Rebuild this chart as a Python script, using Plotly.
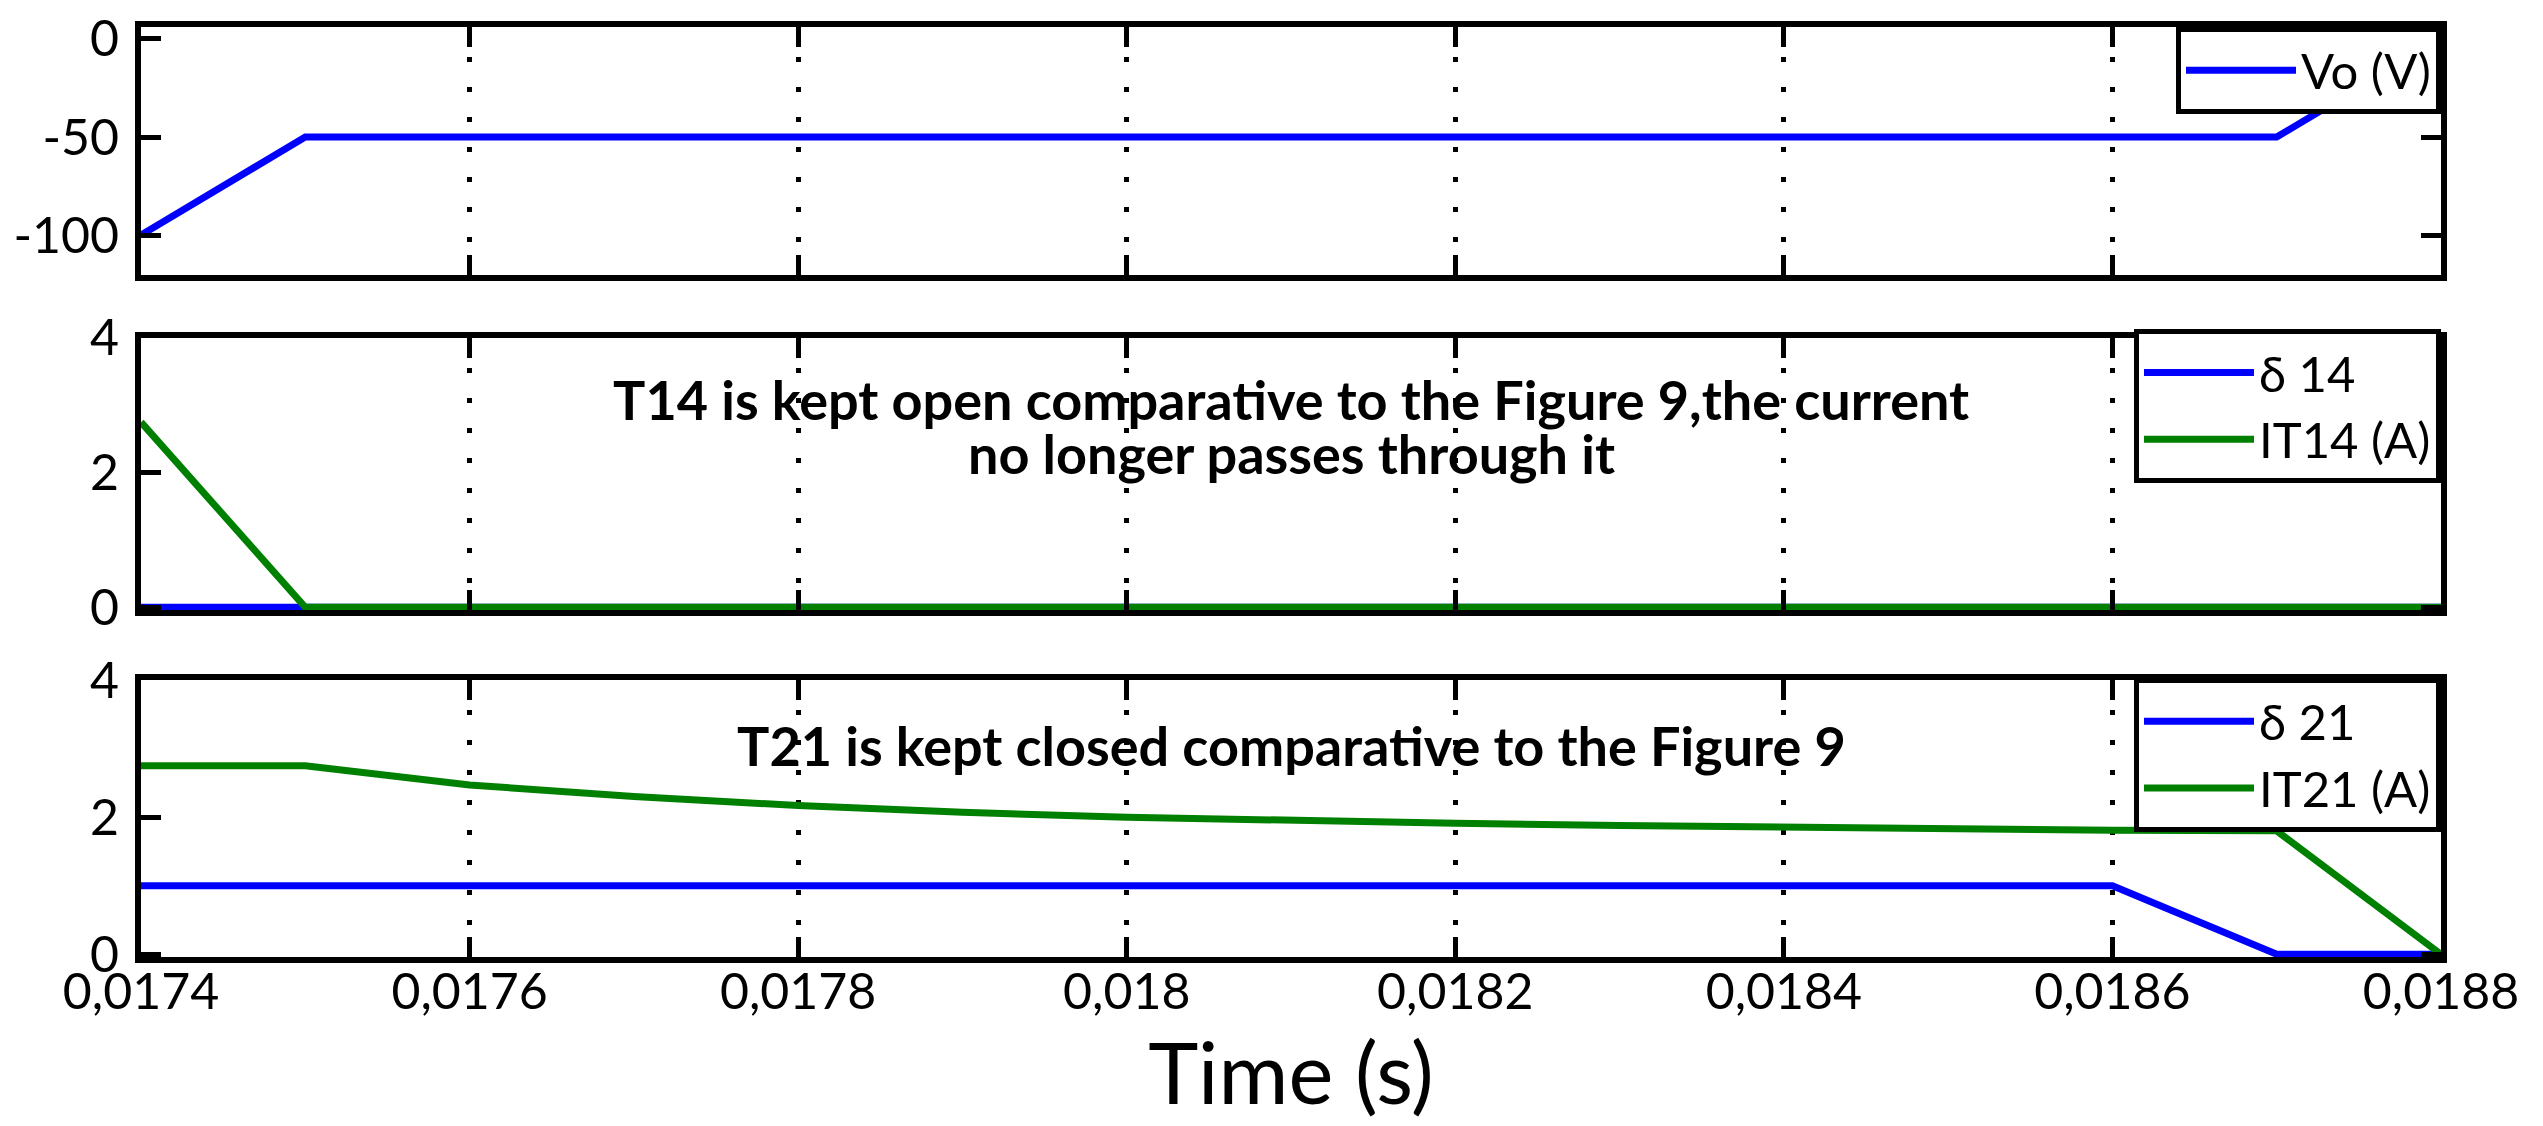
import plotly.graph_objects as go
from plotly.subplots import make_subplots

# ---------------------------------------------------------------------------
# Data
# ---------------------------------------------------------------------------

t_vo = [0.0174, 0.0175, 0.0187, 0.0188]
vo = [-100, -50, -50, 0]

t = [0.0174, 0.0175, 0.0176, 0.0177, 0.0178, 0.0179, 0.0180, 0.0181,
     0.0182, 0.0183, 0.0184, 0.0185, 0.0186, 0.0187, 0.0188]
d14 = [0, 0, 0, 0, 0, 0, 0, 0, 0, 0, 0, 0, 0, 0, 0]
it14 = [2.75, 0, 0, 0, 0, 0, 0, 0, 0, 0, 0, 0, 0, 0, 0]
d21 = [1, 1, 1, 1, 1, 1, 1, 1, 1, 1, 1, 1, 1, 0, 0]
it21 = [2.75, 2.75, 2.47, 2.30, 2.17, 2.07, 2.00, 1.95, 1.91, 1.88,
        1.85, 1.83, 1.81, 1.80, 0]

x_ticks = [0.0174, 0.0176, 0.0178, 0.0180, 0.0182, 0.0184, 0.0186, 0.0188]
x_labels = ["0,0174", "0,0176", "0,0178", "0,018", "0,0182", "0,0184",
            "0,0186", "0,0188"]
vo_ticks = [-100, -50, 0]
vo_labels = ["-100", "-50", "0"]
sw_ticks = [0, 2, 4]

note_t14 = ["T14 is kept open comparative to the Figure 9,the current",
            "no longer passes through it"]
note_t21 = "T21 is kept closed comparative to the Figure 9"

BLUE = "#0000ff"
GREEN = "#008000"
FONT = "Lato"
LW = 7

fig = make_subplots(rows=3, cols=1, shared_xaxes=True)

fig.add_trace(go.Scatter(x=t_vo, y=vo, name="Vo (V)", mode="lines",
                         line=dict(color=BLUE, width=LW), legend="legend"),
              row=1, col=1)
fig.add_trace(go.Scatter(x=t, y=d14, name="δ 14", mode="lines",
                         line=dict(color=BLUE, width=LW), legend="legend2"),
              row=2, col=1)
fig.add_trace(go.Scatter(x=t, y=it14, name="IT14 (A)", mode="lines",
                         line=dict(color=GREEN, width=LW), legend="legend2"),
              row=2, col=1)
fig.add_trace(go.Scatter(x=t, y=d21, name="δ 21", mode="lines",
                         line=dict(color=BLUE, width=LW), legend="legend3"),
              row=3, col=1)
fig.add_trace(go.Scatter(x=t, y=it21, name="IT21 (A)", mode="lines",
                         line=dict(color=GREEN, width=LW), legend="legend3"),
              row=3, col=1)

axis_common = dict(
    showline=True, linecolor="black", linewidth=6, mirror="ticks",
    ticks="inside", ticklen=20, tickwidth=5, tickcolor="black",
    tickfont=dict(family=FONT, size=50, color="black"),
    ticklabeloverflow="allow", zeroline=False,
)

for r in (1, 2, 3):
    fig.update_xaxes(
        range=[0.0174, 0.0188], tickvals=x_ticks, ticktext=x_labels,
        showgrid=True, gridcolor="black", gridwidth=5, griddash="5px,25px",
        showticklabels=(r == 3), ticklabelstandoff=-14,
        row=r, col=1, **axis_common,
    )

fig.update_xaxes(
    title=dict(text="Time (s)", font=dict(family=FONT, size=85, color="black"),
               standoff=5),
    row=3, col=1,
)

fig.update_yaxes(range=[-120.4, 6.1], tickvals=vo_ticks, ticktext=vo_labels,
                 showgrid=False, ticklabelstandoff=6, row=1, col=1, **axis_common)
fig.update_yaxes(range=[-0.04, 4], tickvals=sw_ticks, showgrid=False,
                 ticklabelstandoff=6, row=2, col=1, **axis_common)
fig.update_yaxes(range=[-0.04, 4], tickvals=sw_ticks, showgrid=False,
                 ticklabelstandoff=6, row=3, col=1, **axis_common)

legend_common = dict(
    xanchor="right", yanchor="top", x=1.0,
    bgcolor="white", bordercolor="black", borderwidth=5,
    font=dict(family=FONT, size=49, color="black"),
    itemwidth=110, tracegroupgap=0,
)

fig.update_layout(
    width=2543, height=1126,
    paper_bgcolor="white", plot_bgcolor="white",
    margin=dict(l=133, r=110, t=19, b=177, autoexpand=False),
    showlegend=True,
    yaxis=dict(domain=[0.7333, 1.0]),
    yaxis2=dict(domain=[0.3731, 0.6656]),
    yaxis3=dict(domain=[0.0, 0.2978]),
    legend=dict(y=1.0, **legend_common),
    legend2=dict(y=0.675, **legend_common),
    legend3=dict(y=0.30, **legend_common),
)

note_font = dict(family=FONT, size=54, color="black", weight="bold")
fig.add_annotation(text=note_t14[0], x=0.01810, y=3.09, xref="x2", yref="y2",
                   showarrow=False, font=note_font)
fig.add_annotation(text=note_t14[1], x=0.01810, y=2.28, xref="x2", yref="y2",
                   showarrow=False, font=note_font)
fig.add_annotation(text=note_t21, x=0.01810, y=3.04, xref="x3", yref="y3",
                   showarrow=False, font=note_font)

fig.write_html("out.html")
